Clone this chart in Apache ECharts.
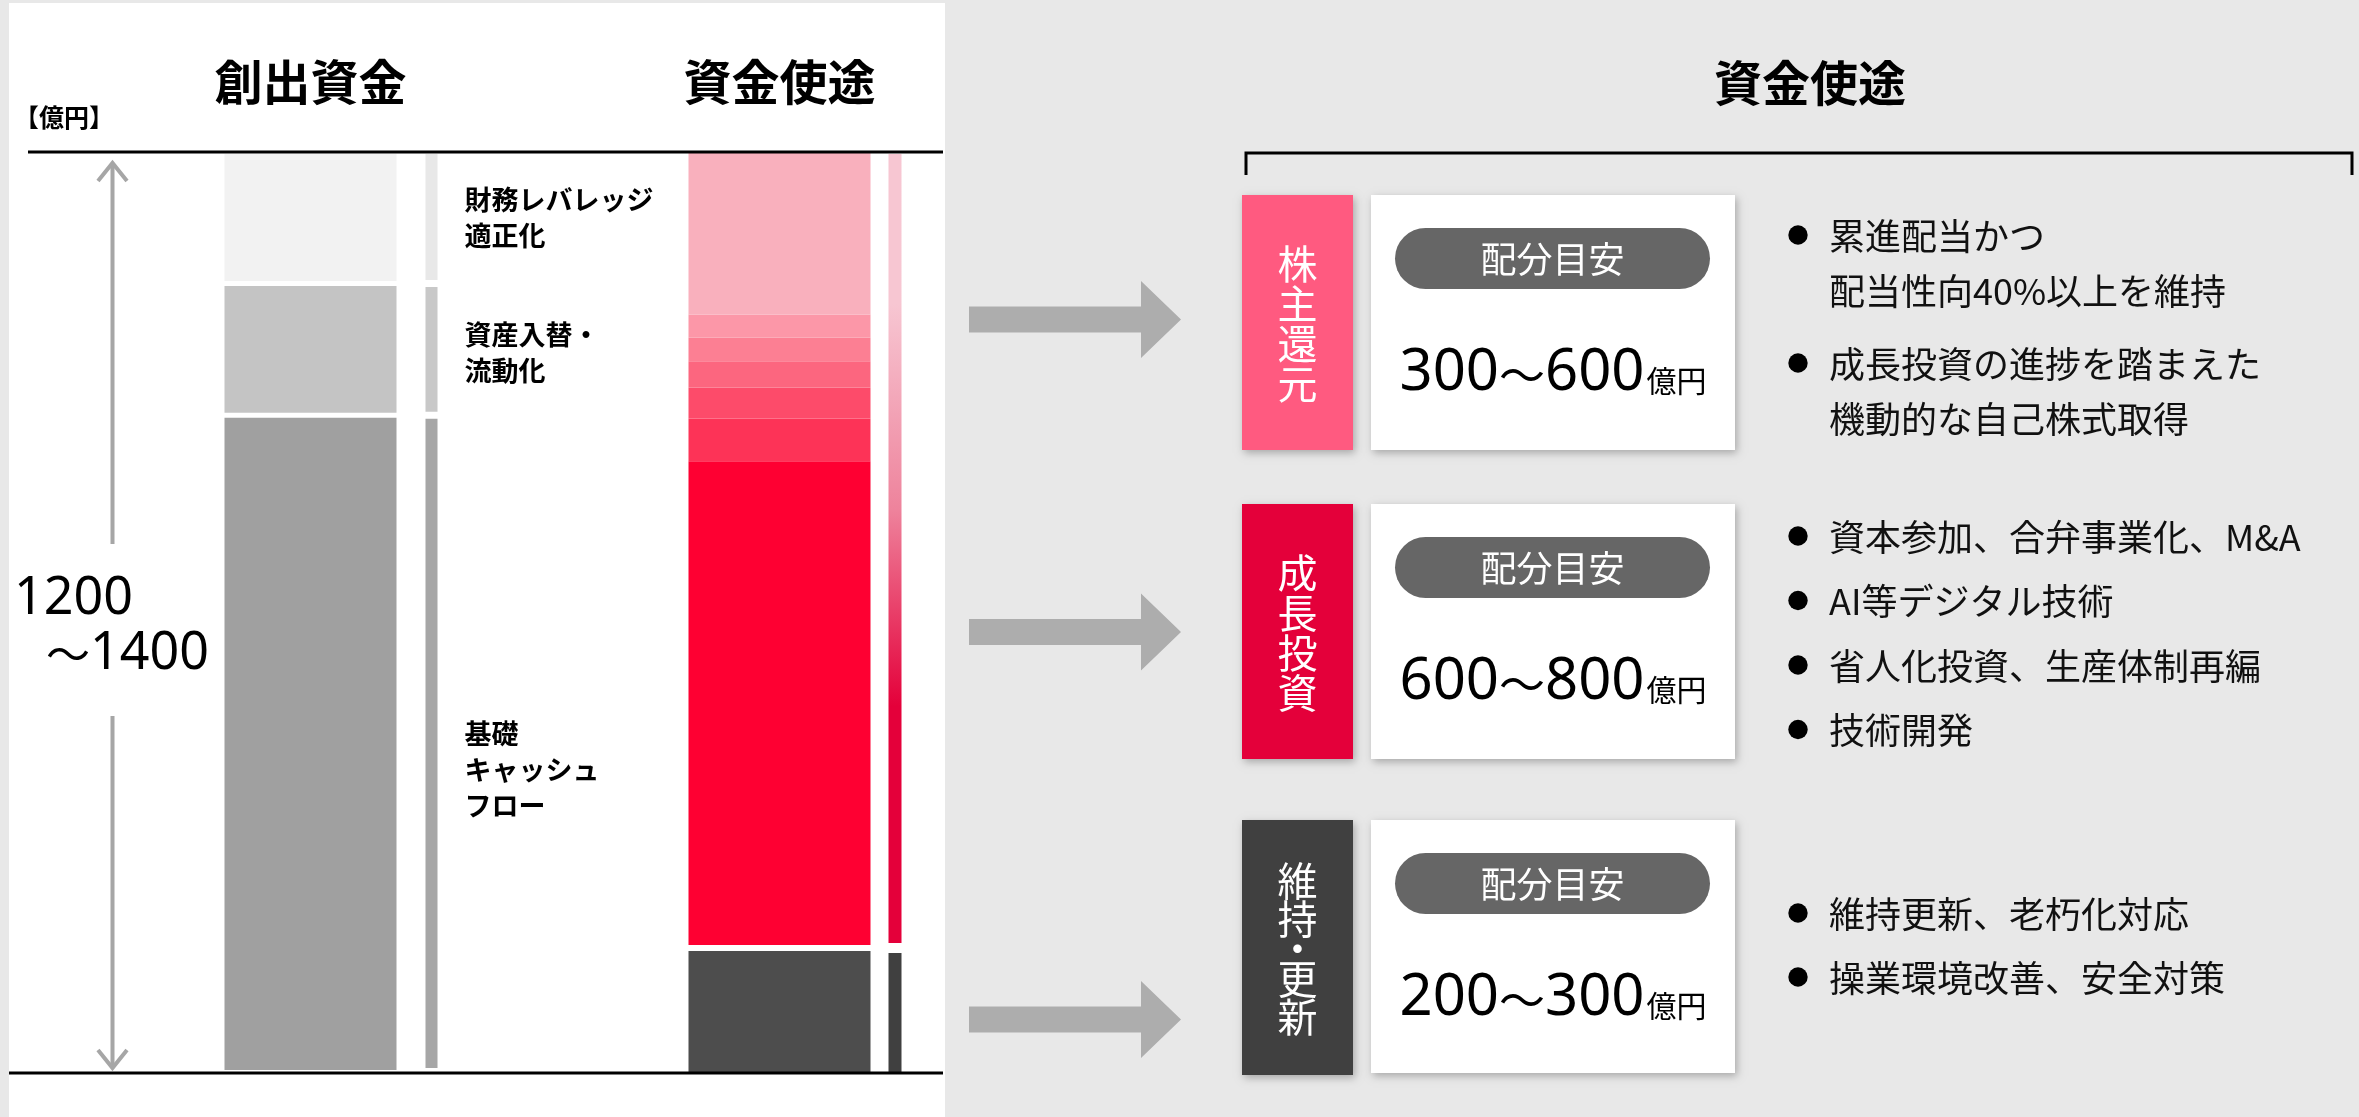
<!DOCTYPE html>
<html><head><meta charset="utf-8">
<script src="https://cdn.jsdelivr.net/npm/echarts@6/dist/echarts.min.js"></script>
<style>html,body{margin:0;padding:0;background:#e8e8e8;overflow:hidden}#c{width:2359px;height:1117px}</style>
</head><body><div id="c"></div><script>
// ---------------- data ----------------
const categories = ['創出資金', '資金使途'];
const unitLabel = '【億円】';
const sourceNames = ['基礎\nキャッシュ\nフロー', '資産入替・\n流動化', '財務レバレッジ\n適正化'];
const sourceValues = [1000, 200, 200];           // bottom -> top (億円, schematic)
const useNames = ['維持・更新', '成長投資', '株主還元'];
const useValues = [190, 740, 470];               // bottom -> top
const returnBands = [65, 47, 40, 36, 35, 247];   // 株主還元 split into bands, bottom -> top
const totalRange = ['1200', '1400'];
const axisMax = 1400;
const allocTitle = '資金使途';
const allocLabels = ['株主還元', '成長投資', '維持・更新'];
const allocRanges = [['300', '600'], ['600', '800'], ['200', '300']];
const allocUnit = '億円';
const allocTag = '配分目安';
const allocBullets = [
  ['累進配当かつ\n配当性向40%以上を維持', '成長投資の進捗を踏まえた\n機動的な自己株式取得'],
  ['資本参加、合弁事業化、M&A', 'AI等デジタル技術', '省人化投資、生産体制再編', '技術開発'],
  ['維持更新、老朽化対応', '操業環境改善、安全対策']
];

// ---------------- style ----------------
const CJK = "'Noto Sans CJK JP', 'Noto Sans', sans-serif";
const NUM = "'Noto Sans', 'Noto Sans CJK JP', sans-serif";
const srcMain = ['#a0a0a0', '#c4c4c4', '#f2f2f2'];
const srcThin = ['#a6a6a6', '#c8c8c8', '#e8e8e8'];
const useDark = '#4d4d4d', useDarkThin = '#404040', useRed = '#fe0032';
const bandColors = ['#fd3357', '#fd4b6a', '#fc667f', '#fc7f93', '#fc97a8', '#f9b0bd'];
const labelColors = ['#ff5a80', '#e4003a', '#404040'];
const BAR = [
  {mainW: 172, thinW: 12, thinDx: 121, mainGap: 2.5, thinGap: 3.5, mainEdge: [3, 2], thinEdge: [5, 2]},
  {mainW: 182, thinW: 13, thinDx: 115.5, mainGap: 3, thinGap: 5, mainEdge: [0, 1], thinEdge: [1, 2]}
];
const labelDx = 154, labelShift = [26, 3, 0];

// ---------------- build segments ----------------
const segs = [];
let acc = 0;
sourceValues.forEach((v, i) => {
  const base = {cat: 0, from: acc, to: acc + v, bottomEdge: i === 0, topEdge: i === sourceValues.length - 1, gapBelow: true, gapAbove: true};
  segs.push(Object.assign({}, base, {part: 'main', fill: srcMain[i], label: sourceNames[i], li: i}));
  segs.push(Object.assign({}, base, {part: 'thin', fill: srcThin[i]}));
  acc += v;
});
// 維持・更新
segs.push({cat: 1, from: 0, to: useValues[0], bottomEdge: true, topEdge: false, gapAbove: true, part: 'main', fill: useDark});
segs.push({cat: 1, from: 0, to: useValues[0], bottomEdge: true, topEdge: false, gapAbove: true, part: 'thin', fill: useDarkThin});
acc = useValues[0];
// 成長投資
segs.push({cat: 1, from: acc, to: acc + useValues[1], gapBelow: true, gapAbove: false, part: 'main', fill: useRed});
acc += useValues[1];
// 株主還元 bands
returnBands.forEach((v, i) => {
  segs.push({cat: 1, from: acc, to: acc + v, gapBelow: false, topEdge: i === returnBands.length - 1, part: 'main', fill: bandColors[i]});
  acc += v;
});
// thin gradient bar for 成長投資 + 株主還元
segs.push({cat: 1, from: useValues[0], to: useValues[0] + useValues[1] + useValues[2], gapBelow: true, topEdge: true, part: 'thin',
  fill: new echarts.graphic.LinearGradient(0, 0, 0, 1, [
    {offset: 0, color: '#f7c6d2'}, {offset: 0.19, color: '#f7c6d2'},
    {offset: 0.45, color: '#ee839c'}, {offset: 0.70, color: '#e4003a'}, {offset: 1, color: '#e4003a'}])});

function renderItem(params, api) {
  const s = segs[params.dataIndex];
  const st = BAR[s.cat];
  const pb = api.coord([api.value(0), api.value(1)]);
  const pt = api.coord([api.value(0), api.value(2)]);
  const isMain = s.part === 'main';
  const w = isMain ? st.mainW : st.thinW;
  const cx = pb[0] + (isMain ? 0 : st.thinDx);
  const gap = isMain ? st.mainGap : st.thinGap;
  const edge = isMain ? st.mainEdge : st.thinEdge;
  const ib = s.bottomEdge ? edge[0] : (s.gapBelow ? gap : 0);
  const it = s.topEdge ? edge[1] : (s.gapAbove ? gap : 0);
  const y0 = pb[1] - ib, y1 = pt[1] + it;
  const children = [{type: 'rect', shape: {x: cx - w / 2, y: y1, width: w, height: y0 - y1}, style: {fill: s.fill}}];
  if (isMain && s.label) {
    children.push({type: 'text', style: {
      text: s.label, x: pb[0] + labelDx, y: (pb[1] + pt[1]) / 2 + labelShift[s.li],
      fill: '#000', fontSize: 27, fontWeight: 'bold', fontFamily: CJK, lineHeight: 36,
      align: 'left', verticalAlign: 'middle', textAlign: 'left', textVerticalAlign: 'middle'}});
  }
  return {type: 'group', children};
}

const chart = echarts.init(document.getElementById('c'), null, {width: 2359, height: 1117});
chart.setOption({
  backgroundColor: '#e8e8e8',
  animation: false,
  grid: {left: 76, width: 938, top: 152, bottom: 44},
  xAxis: {type: 'category', data: categories, position: 'top', axisLine: {show: false}, axisTick: {show: false},
    axisLabel: {interval: 0, fontSize: 48, fontWeight: 'bold', color: '#000', fontFamily: CJK, margin: 46}},
  yAxis: {type: 'value', min: 0, max: axisMax, show: false},
  series: [{type: 'custom', renderItem, data: segs.map(s => [s.cat, s.from, s.to]), z: 2, silent: true}]
});

const yTop = chart.convertToPixel({yAxisIndex: 0}, axisMax);
const yBot = chart.convertToPixel({yAxisIndex: 0}, 0);

function txt(text, x, y, o) {
  const a = (o && o.align) || 'left', v = (o && o.va) || 'middle';
  return {type: 'text', z: 20, style: Object.assign({text, x, y, fill: '#000', fontFamily: CJK, fontSize: 30,
    align: a, verticalAlign: v, textAlign: a, textVerticalAlign: v}, o && o.style)};
}

const g = [];
// left white panel
g.push({type: 'rect', z: -100, shape: {x: 9, y: 3, width: 936, height: 1114}, style: {fill: '#fff'}});
g.push(txt(unitLabel, 14, 117, {style: {fontSize: 25, fontWeight: 'bold'}}));
// top / bottom rules
g.push({type: 'line', z: 30, shape: {x1: 28, y1: yTop, x2: 943, y2: yTop}, style: {stroke: '#000', lineWidth: 3}});
g.push({type: 'line', z: 30, shape: {x1: 9, y1: yBot, x2: 943, y2: yBot}, style: {stroke: '#000', lineWidth: 3}});
// double arrow
const ax = 112.5, aGray = '#a6a6a6';
const tipT = yTop + 11, tipB = yBot - 5;
g.push({type: 'line', z: 20, shape: {x1: ax, y1: tipT, x2: ax, y2: 544}, style: {stroke: aGray, lineWidth: 4}});
g.push({type: 'line', z: 20, shape: {x1: ax, y1: 716, x2: ax, y2: tipB}, style: {stroke: aGray, lineWidth: 4}});
g.push({type: 'polyline', z: 20, shape: {points: [[ax - 14.5, tipT + 18], [ax, tipT], [ax + 14.5, tipT + 18]]}, style: {stroke: aGray, lineWidth: 4, fill: null}});
g.push({type: 'polyline', z: 20, shape: {points: [[ax - 14.5, tipB - 18], [ax, tipB], [ax + 14.5, tipB - 18]]}, style: {stroke: aGray, lineWidth: 4, fill: null}});
g.push(txt(totalRange[0], 14, 599, {style: {fontSize: 52, fontFamily: NUM}}));
g.push(txt('{t|～}{n|' + totalRange[1] + '}', 46, 650, {style: {rich: {
  t: {fontSize: 44, fontFamily: CJK, fill: '#000', lineHeight: 60, verticalAlign: 'bottom', padding: [0, 0, 4, 0]},
  n: {fontSize: 52, fontFamily: NUM, fill: '#000', lineHeight: 60, verticalAlign: 'bottom'}}}}));

// right panel
g.push(txt(allocTitle, 1810, 83, {align: 'center', style: {fontSize: 48, fontWeight: 'bold'}}));
g.push({type: 'polyline', z: 20, shape: {points: [[1246, 175], [1246, 153], [2352, 153], [2352, 175]]}, style: {stroke: '#000', lineWidth: 3, fill: null}});

const boxTop = [195, 504, 820], boxH = 255;
const arrowY = [319.5, 632, 1019.5];
const bulletFirstY = [236, 537, 914], lineStep = 55.5, bulletStep = [128, 64.5, 64];
const shadow = {shadowBlur: 8, shadowColor: 'rgba(0,0,0,0.28)', shadowOffsetX: 2, shadowOffsetY: 3};

for (let i = 0; i < 3; i++) {
  const top = boxTop[i], cy = top + boxH / 2;
  // arrow
  const ay = arrowY[i];
  g.push({type: 'polygon', z: 10, shape: {points: [[969, ay - 13], [1141, ay - 13], [1141, ay - 38.5], [1181, ay], [1141, ay + 38.5], [1141, ay + 13], [969, ay + 13]]}, style: {fill: '#adadad'}});
  // label box
  g.push({type: 'rect', z: 10, shape: {x: 1242, y: top, width: 111, height: boxH}, style: Object.assign({fill: labelColors[i]}, shadow)});
  const chars = allocLabels[i].split('');
  g.push(txt(chars.map(c => c === '・' ? '{d|' + c + '}' : '{a|' + c + '}').join('\n'), 1297.5, cy + 1, {align: 'center', style: {
    fill: '#fff', rich: {
      a: {fontSize: 40, lineHeight: chars.length > 4 ? 38 : 40, fill: '#fff', fontFamily: CJK, align: 'center'},
      d: {fontSize: 40, lineHeight: 22, fill: '#fff', fontFamily: CJK, align: 'center'}}}}));
  // white box
  g.push({type: 'rect', z: 10, shape: {x: 1371, y: top, width: 364, height: boxH - (i === 2 ? 2 : 0)}, style: Object.assign({fill: '#fff'}, shadow)});
  // pill
  g.push({type: 'rect', z: 11, shape: {x: 1395, y: top + 33, width: 315, height: 61, r: 30.5}, style: {fill: '#666666'}});
  g.push(txt(allocTag, 1552.5, top + 33 + 31, {align: 'center', style: {fill: '#fff', fontSize: 36}}));
  // amount
  g.push(txt('{n|' + allocRanges[i][0] + '}{t|～}{n|' + allocRanges[i][1] + '}{u|' + allocUnit + '}', 1553, top + 175, {align: 'center', style: {
    rich: {
      n: {fontSize: 58, fontFamily: NUM, fill: '#000', lineHeight: 64, verticalAlign: 'bottom'},
      t: {fontSize: 46, fontFamily: CJK, fill: '#000', lineHeight: 64, verticalAlign: 'bottom', padding: [0, 0, 4, 0]},
      u: {fontSize: 30, fontFamily: CJK, fill: '#000', lineHeight: 64, verticalAlign: 'bottom', padding: [0, 0, 6, 2]}}}}));
  // bullets
  let y = bulletFirstY[i];
  allocBullets[i].forEach(b => {
    g.push({type: 'circle', z: 20, shape: {cx: 1798, cy: y - 1, r: 9.7}, style: {fill: '#000'}});
    const lines = b.split('\n');
    lines.forEach((ln, k) => g.push(txt(ln, 1829, y + k * lineStep, {style: {fontSize: 36, fill: '#111'}})));
    y += bulletStep[i];
  });
}

chart.setOption({graphic: {elements: g}});
</script></body></html>
